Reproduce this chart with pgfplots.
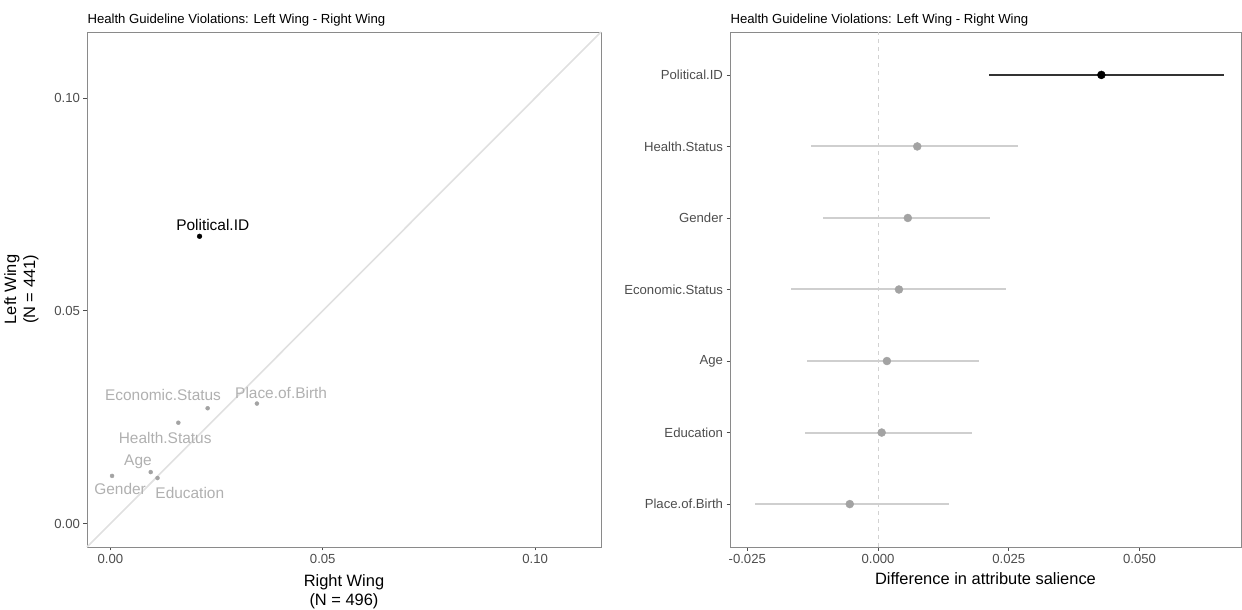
\documentclass[border=0pt]{standalone}
\usepackage{pgfplots}
\usepackage{pgfplotstable}
\pgfplotsset{compat=1.18}
\usepackage{fontspec}
\setmainfont{Liberation Sans}
\definecolor{tickc}{HTML}{4D4D4D}
\definecolor{framec}{HTML}{8A8A8A}
\definecolor{ptgrey}{HTML}{A3A3A3}
\definecolor{lblgrey}{HTML}{B0B0B0}
\definecolor{ciGrey}{HTML}{CFCFCF}
\definecolor{diag}{HTML}{E0E0E0}

\pgfplotstableread{
x y
0.0229 0.0271
0.0345 0.0282
0.0160 0.0237
0.0095 0.0121
0.0111 0.0107
0.0004 0.0112
}\leftgrey
\pgfplotstableread{
x y
0.0210 0.0675
}\leftblack
\pgfplotstableread{
y est lo hi
6 0.0075 -0.0129 0.0267
5 0.0057 -0.0106 0.0215
4 0.0040 -0.0166 0.0244
3 0.0017 -0.0136 0.0194
2 0.0007 -0.0139 0.0179
1 -0.0054 -0.0235 0.0135
}\diffgrey
\pgfplotstableread{
y est lo hi
7 0.0427 0.0213 0.0662
}\diffblack

\pgfplotsset{
  common/.style={
    scale only axis,
    anchor=south west,
    tick align=outside,
    major tick length=3.5bp,
    tick style={tickc, line width=0.6bp},
    axis line style={framec, line width=0.8bp},
    ticklabel style={font=\fontsize{13.2}{15}\selectfont, text=tickc},
    /pgf/number format/assume math mode=true,
    scaled ticks=false,
    label style={font=\fontsize{16.5}{19}\selectfont, text=black, align=center},
    title style={font=\fontsize{13.2}{15}\selectfont, at={(0,1)}, anchor=base west, yshift=3bp, xshift=-3bp},
    xtick pos=bottom, ytick pos=left,
    clip=false,
  }
}

\begin{document}
\begin{tikzpicture}
\path[use as bounding box] (0,0) rectangle (1242bp,610bp);

% ---------------- left panel ----------------
\begin{axis}[common,
  at={(87bp,63bp)}, width=514bp, height=515bp,
  xmin=-0.0055, xmax=0.1155, ymin=-0.0055, ymax=0.1155,
  xtick={0,0.05,0.1}, xticklabels={0.00,0.05,0.10},
  ytick={0,0.05,0.1}, yticklabels={0.00,0.05,0.10},
  title={Health Guideline Violations: Left Wing - Right Wing},
  xlabel={Right Wing\\(N = 496)},
  ylabel={Left Wing\\(N = 441)},
  xlabel style={at={(axis description cs:0.5,0)}, anchor=north, yshift=-24bp},
  ylabel style={at={(axis description cs:0,0.5)}, anchor=south, yshift=45bp},
]
\addplot[diag, line width=1.6bp, no marks] coordinates {(-0.0055,-0.0055) (0.1155,0.1155)};
\addplot[only marks, mark=*, mark size=2bp, ptgrey, mark options={draw=ptgrey, fill=ptgrey}] table[x=x, y=y] {\leftgrey};
\addplot[only marks, mark=*, mark size=2.4bp, black] table[x=x, y=y] {\leftblack};
\begin{scope}[every node/.style={font=\fontsize{15.5}{17}\selectfont, text=lblgrey, inner sep=1bp}]
\node at (axis cs:0.0124,0.0301) {Economic.Status};
\node at (axis cs:0.0402,0.0306) {Place.of.Birth};
\node at (axis cs:0.0129,0.0202) {Health.Status};
\node at (axis cs:0.0065,0.0146) {Age};
\node at (axis cs:0.0023,0.0082) {Gender};
\node at (axis cs:0.0187,0.0073) {Education};
\node[text=black] at (axis cs:0.0241,0.0701) {Political.ID};
\end{scope}
\end{axis}

% ---------------- right panel ----------------
\begin{axis}[common,
  at={(730bp,63bp)}, width=511bp, height=515bp,
  xmin=-0.0283, xmax=0.0694, ymin=0.4, ymax=7.6,
  xtick={-0.025,0,0.025,0.05}, xticklabels={-0.025,0.000,0.025,0.050},
  ytick={1,2,3,4,5,6,7},
  yticklabels={Place.of.Birth,Education,Age,Economic.Status,Gender,Health.Status,Political.ID},
  title={Health Guideline Violations: Left Wing - Right Wing},
  xlabel={Difference in attribute salience},
  xlabel style={at={(axis description cs:0.5,0)}, anchor=north, yshift=-22bp},
]
\addplot[gray!35, line width=1bp, dash pattern=on 4bp off 4bp, no marks] coordinates {(0,0.4) (0,7.6)};
\addplot[only marks, mark=*, mark size=4bp, mark options={draw=ptgrey, fill=ptgrey},
  error bars/.cd, x dir=both, x explicit, error mark=none,
  error bar style={ciGrey, line width=2bp}]
  table[x=est, y=y, x error plus expr=\thisrow{hi}-\thisrow{est}, x error minus expr=\thisrow{est}-\thisrow{lo}] {\diffgrey};
\addplot[only marks, mark=*, mark size=4bp, mark options={draw=black, fill=black},
  error bars/.cd, x dir=both, x explicit, error mark=none,
  error bar style={black!80, line width=2bp}]
  table[x=est, y=y, x error plus expr=\thisrow{hi}-\thisrow{est}, x error minus expr=\thisrow{est}-\thisrow{lo}] {\diffblack};
\end{axis}
\end{tikzpicture}
\end{document}
